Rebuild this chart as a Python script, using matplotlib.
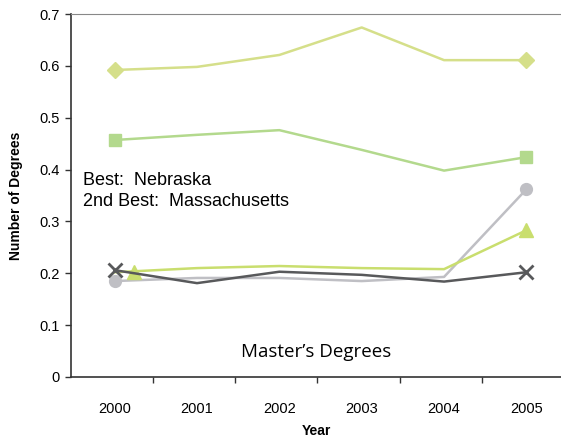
import numpy as np
import matplotlib.pyplot as plt

# data
years = ["2000", "2001", "2002", "2003", "2004", "2005"]
diamond = [0.592, 0.598, 0.621, 0.674, 0.611, 0.611]
square = [0.457, 0.467, 0.476, 0.438, 0.398, 0.424]
triangle = [0.202, 0.210, 0.214, 0.210, 0.208, 0.283]
circle = [0.185, 0.191, 0.191, 0.185, 0.193, 0.362]
cross = [0.206, 0.181, 0.203, 0.197, 0.184, 0.202]

plt.rcParams['font.family'] = ['Liberation Sans', 'DejaVu Sans']

fig = plt.figure(figsize=(5.61, 4.37), dpi=100)
ax = fig.add_axes([71/561, 60/437, 1 - 71/561, 363/437])

x = np.arange(len(years))
lw = 1.8

ax.plot(x, diamond, color="#d5df8a", lw=lw, marker="D", ms=8.5, markevery=[0, 5])
ax.plot(x, square, color="#b3d98d", lw=lw, marker="s", ms=9, markevery=[0, 5])
ax.plot(x, circle, color="#bfbfc4", lw=lw, marker="o", ms=8.5, markevery=[0, 5])
ax.plot(x, triangle, color="#c9de6e", lw=lw, marker="^", ms=10, markevery=[5])
ax.plot(x[0] + 0.23, triangle[0], color="#c9de6e", marker="^", ms=10, ls="none")
ax.plot(x, cross, color="#58595b", lw=lw, marker="x", ms=10, mew=2, markevery=[0, 5])

ax.set_xlim(-0.53, 5.42)
ax.set_ylim(0, 0.7)
ax.set_yticks(np.arange(0, 0.71, 0.1))
ax.set_yticklabels(["0", "0.1", "0.2", "0.3", "0.4", "0.5", "0.6", "0.7"], fontsize=10.5)
ax.set_xticks(x)
ax.set_xticklabels(years, fontsize=10.5)
ax.tick_params(axis="x", length=0, pad=18)
ax.set_xticks(np.arange(5) + 0.46, minor=True)
ax.tick_params(axis="x", which="minor", length=4, width=1, color="#333333", direction="out")
ax.tick_params(axis="y", length=4, width=1, color="#333333", direction="out", pad=4)

for s in ["left", "bottom"]:
    ax.spines[s].set_color("#333333")
    ax.spines[s].set_linewidth(1.2)
ax.spines["top"].set_color("#888888")
ax.spines["right"].set_visible(False)

ax.set_xlabel("Year", fontsize=10, fontweight="bold", labelpad=6)
ax.set_ylabel("Number of Degrees", fontsize=10, fontweight="bold", labelpad=12)

ax.text(0.025, 0.54, "Best:  Nebraska", transform=ax.transAxes, fontsize=13, va="center")
ax.text(0.025, 0.484, "2nd Best:  Massachusetts", transform=ax.transAxes, fontsize=13, va="center")
ax.text(0.5, 0.07, "Master\u2019s Degrees", transform=ax.transAxes, fontsize=13.5,
        ha="center", va="center", family=["Open Sans", "DejaVu Sans"])

fig.savefig("out.png", dpi=100)
